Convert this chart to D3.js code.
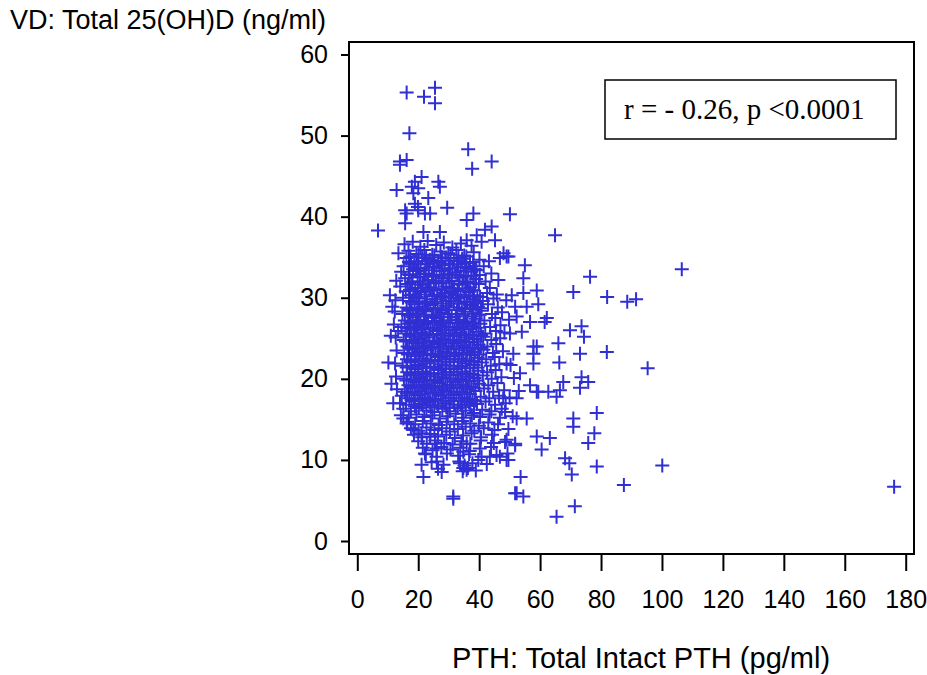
<!DOCTYPE html>
<html>
<head>
<meta charset="utf-8">
<script src="https://cdn.jsdelivr.net/npm/d3@7"></script>
<style>
  body { margin: 0; background: #fff; }
  text { font-family: "Liberation Sans", Arial, sans-serif; }
</style>
</head>
<body>
<div id="chart"></div>
<script>
// scatter: PTH vs 25(OH)D

const width = 927
const height = 675

// tick labels
const xTicks = [0, 20, 40, 60, 80, 100, 120, 140, 160, 180]
const yTicks = [0, 10, 20, 30, 40, 50, 60]

const xLabel = "PTH: Total Intact PTH (pg/ml)"
const yLabel = "VD: Total 25(OH)D (ng/ml)"
const note = "r = - 0.26, p <0.0001"

// [PTH, VD]: scattered points around the cloud
const outerPoints = [
  [6.8,38.3],[16.2,55.3],[21.9,54.8],[25.5,55.9],[25.5,54.0],[17.1,50.3],[14.0,46.8],[16.2,47.0],[14.0,46.4],
  [36.4,48.3],[37.7,45.9],[44.1,46.8],[12.9,43.3],[18.9,44.3],[21.1,44.9],[17.9,43.7],[20.0,43.5],[26.6,44.3],
  [27.1,43.7],[23.3,42.3],[18.4,42.9],[29.5,41.1],[15.7,40.8],[22.2,40.4],[19.9,41.2],[38.1,40.4],[50.1,40.3],
  [18.9,41.6],[20.0,40.8],[23.9,40.4],[16.2,40.4],[15.7,39.2],[35.9,39.6],[44.1,38.8],[41.9,38.4],[21.7,38.1],
  [27.1,38.1],[13.5,35.5],[45.2,37.1],[39.2,37.7],[35.9,37.1],[10.7,30.3],[49.0,35.1],[46.8,34.9],
  [64.9,37.7],[106.5,33.5],[76.4,32.6],[70.9,30.7],[82.0,30.1],[88.6,29.5],[91.5,29.8],[55.0,34.0],[54.5,32.4],
  [48.0,35.5],[49.6,35.1],[58.9,30.9],[54.5,30.6],[50.7,30.3],[59.4,29.2],[55.6,28.9],[51.8,28.9],[62.2,27.5],
  [61.5,27.0],[52.3,27.7],[56.7,27.0],[69.8,26.0],[73.6,26.5],[74.4,25.2],[66.0,24.4],[73.1,23.1],[81.9,23.3],
  [57.8,24.0],[54.0,25.8],[50.1,25.6],[51.2,23.1],[95.3,21.3],[58.9,24.0],[66.3,22.0],[73.6,20.2],[75.8,19.6],
  [73.1,18.9],[67.6,19.6],[66.5,18.6],[65.4,17.8],[62.7,18.4],[59.4,18.4],[78.6,15.8],[70.9,15.1],[70.9,14.1],
  [77.8,13.3],[75.8,12.1],[63.2,12.7],[58.9,12.9],[60.5,11.3],[68.2,10.2],[69.6,9.6],[70.4,8.2],[78.6,9.2],
  [100.1,9.3],[87.5,6.9],[71.4,4.3],[65.4,3.0],[53.6,7.9],[51.8,5.9],[54.5,5.5],[49.0,10.0],[49.0,12.5],
  [51.8,12.0],[49.6,13.8],[55.6,15.1],[52.3,15.1],[48.5,15.9],[57.8,23.1],[49.0,21.9],[53.4,20.7],[57.8,21.9],
  [56.7,19.2],[58.9,18.4],[52.3,17.6],[47.9,17.6],[176.2,6.7],
  [21.7,7.9],[21.1,9.4],[27.7,8.5],[26.1,9.8],[22.2,10.8],[31.5,5.5],[31.5,5.2],[33.7,9.6],[34.8,9.0],
  [35.9,8.8],[39.7,10.0],[25.5,12.0],[26.1,11.4],[35.9,12.0],[34.8,11.0],[43.5,10.4],[46.8,10.4],[49.6,10.0],
  [52.3,5.9],[48.5,12.2],[51.8,11.8],[18.4,13.7],[21.1,13.3],[23.9,12.9],[16.2,14.5],[15.1,15.1],[14.0,17.0],[11.8,17.0],
  [11.0,25.3],[10.2,22.0],[11.5,28.9],[11.2,19.4]
]

// main cloud
const corePoints = [
  [15.5,36.6],[18.2,36.9],[20.7,36.3],[23.1,37.0],[25.9,36.5],[28.4,36.8],[31.2,36.2],[34.0,36.7],[37.5,36.4],[40.8,36.9],
  [16.8,35.8],[19.4,35.4],[22.0,35.9],[24.6,35.3],[27.3,35.7],[29.9,35.5],[32.5,35.9],[35.1,35.2],[38.2,35.6],
  [16.1,34.9],[18.7,34.5],[21.3,35.0],[23.8,34.7],[26.5,34.4],[29.0,34.9],[31.7,34.6],[34.4,34.8],[37.0,34.3],[40.1,34.7],[43.2,34.5],
  [15.2,33.9],[17.6,34.2],[20.1,33.7],[22.8,34.1],[25.2,33.8],[27.9,34.0],[30.4,33.6],[33.1,34.1],[35.7,33.8],[38.6,33.5],[41.5,33.9],
  [14.4,33.2],[16.9,32.9],[19.3,33.3],[21.9,33.0],[24.5,32.8],[27.0,33.3],[29.6,32.9],[32.2,33.1],[34.9,32.7],[37.4,33.2],[40.2,32.8],[44.0,33.0],
  [12.8,32.1],[15.7,32.4],[18.1,32.0],[20.6,32.5],[23.3,32.2],[25.8,31.9],[28.3,32.4],[31.0,32.1],[33.6,32.5],[36.2,31.9],[39.0,32.3],[42.1,32.0],[46.3,32.2],
  [14.1,31.4],[16.6,31.7],[19.0,31.2],[21.5,31.6],[24.1,31.3],[26.7,31.8],[29.2,31.4],[31.8,31.1],[34.5,31.6],[37.1,31.3],[39.9,31.7],[43.5,31.2],
  [15.9,30.8],[18.4,30.4],[20.9,30.7],[23.6,30.9],[26.2,30.3],[28.8,30.6],[31.4,30.8],[33.9,30.4],[36.6,30.7],[39.4,30.2],[42.6,30.6],[45.8,30.4],
  [12.5,29.7],[15.0,30.0],[17.5,29.6],[20.2,29.9],[22.6,29.5],[25.3,29.8],[27.8,30.1],[30.5,29.6],[33.0,29.9],[35.8,29.5],[38.3,29.8],[41.2,29.6],[44.7,29.9],[48.9,29.7],
  [16.2,28.8],[18.8,29.2],[21.4,28.9],[24.0,29.1],[26.4,28.7],[29.1,29.0],[31.7,29.3],[34.3,28.8],[37.0,29.1],[39.6,28.9],[42.9,29.2],[46.1,28.8],
  [12.3,28.3],[14.8,28.0],[17.3,28.4],[19.9,28.1],[22.5,28.3],[25.0,27.9],[27.6,28.2],[30.2,28.5],[32.8,28.0],[35.4,28.3],[38.1,28.1],[40.8,28.4],[44.2,28.0],[47.5,28.2],
  [15.6,27.2],[18.2,27.6],[20.7,27.3],[23.2,27.1],[25.9,27.5],[28.4,27.2],[31.0,27.6],[33.6,27.3],[36.2,27.0],[38.9,27.4],[41.7,27.2],[45.3,27.5],[49.8,27.3],
  [12.0,26.7],[14.5,26.4],[17.0,26.8],[19.6,26.5],[22.1,26.7],[24.7,26.3],[27.3,26.6],[29.9,26.9],[32.5,26.4],[35.0,26.7],[37.7,26.5],[40.4,26.8],[43.6,26.4],[47.0,26.6],
  [13.4,25.9],[15.9,25.6],[18.5,26.0],[21.0,25.7],[23.6,25.5],[26.1,25.9],[28.7,25.6],[31.3,26.0],[33.8,25.7],[36.5,25.4],[39.1,25.8],[42.0,25.6],[45.5,25.9],[48.3,25.7],
  [12.6,25.1],[15.2,24.8],[17.7,25.2],[20.3,24.9],[22.8,25.1],[25.4,24.7],[28.0,25.0],[30.6,25.3],[33.2,24.8],[35.7,25.1],[38.4,24.9],[41.3,25.2],[44.0,24.8],[46.9,25.0],
  [16.5,24.0],[19.1,24.4],[21.6,24.1],[24.2,23.9],[26.8,24.3],[29.3,24.0],[31.9,24.4],[34.6,24.1],[37.2,23.8],[39.8,24.2],[42.7,24.0],[45.6,24.3],
  [12.9,23.5],[15.4,23.2],[18.0,23.6],[20.5,23.3],[23.0,23.5],[25.6,23.1],[28.2,23.4],[30.8,23.7],[33.4,23.2],[36.0,23.5],[38.6,23.3],[41.4,23.6],[44.5,23.2],[47.8,23.4],
  [16.3,22.4],[18.9,22.8],[21.4,22.5],[24.0,22.3],[26.5,22.7],[29.1,22.4],[31.6,22.8],[34.3,22.5],[36.9,22.2],[39.5,22.6],[42.3,22.4],[45.1,22.7],
  [12.4,21.9],[14.9,21.6],[17.5,22.0],[20.0,21.7],[22.6,21.9],[25.2,21.5],[27.7,21.8],[30.3,22.1],[32.9,21.6],[35.5,21.9],[38.2,21.7],[40.9,22.0],[43.8,21.6],[46.6,21.8],[50.3,21.7],
  [16.4,20.8],[19.0,21.2],[21.5,20.9],[24.1,20.7],[26.6,21.1],[29.2,20.8],[31.8,21.2],[34.4,20.9],[37.0,20.6],[39.7,21.0],[42.6,20.8],[45.4,21.1],
  [12.7,20.3],[15.3,20.0],[17.8,20.4],[20.4,20.1],[22.9,20.3],[25.5,19.9],[28.1,20.2],[30.7,20.5],[33.3,20.0],[35.9,20.3],[38.5,20.1],[41.2,20.4],[44.1,20.0],[47.3,20.2],[51.4,20.1],
  [16.8,19.2],[19.3,19.6],[21.9,19.3],[24.5,19.1],[27.0,19.5],[29.6,19.2],[32.2,19.6],[34.8,19.3],[37.4,19.0],[40.0,19.4],[43.0,19.2],[46.0,19.5],
  [13.0,18.7],[15.6,18.4],[18.1,18.8],[20.7,18.5],[23.3,18.7],[25.8,18.3],[28.4,18.6],[31.0,18.9],[33.6,18.4],[36.1,18.7],[38.8,18.5],[41.6,18.8],[44.6,18.4],[48.2,18.6],[53.0,18.5],
  [14.6,17.9],[17.1,17.6],[19.7,18.0],[22.2,17.7],[24.8,17.5],[27.4,17.9],[30.0,17.6],[32.5,18.0],[35.2,17.7],[37.8,17.4],[40.5,17.8],[43.3,17.6],[46.5,17.9],[50.0,17.7],
  [16.0,16.8],[18.6,17.2],[21.1,16.9],[23.7,17.1],[26.3,16.7],[28.9,17.0],[31.5,17.3],[34.0,16.8],[36.7,17.1],[39.3,16.9],[42.1,17.2],[45.2,16.8],[48.7,17.0],
  [15.1,16.3],[17.6,16.0],[20.2,16.4],[22.7,16.1],[25.3,15.9],[27.9,16.3],[30.4,16.0],[33.0,16.4],[35.6,16.1],[38.3,15.8],[41.0,16.2],[44.0,16.0],[47.4,16.3],
  [14.3,15.5],[16.9,15.2],[19.4,15.6],[22.0,15.3],[24.6,15.5],[27.1,15.1],[29.7,15.4],[32.3,15.7],[34.9,15.2],[37.6,15.5],[40.3,15.3],[43.4,15.6],[46.8,15.2],[51.0,15.4],
  [16.4,14.7],[19.0,14.4],[21.5,14.8],[24.1,14.5],[26.7,14.3],[29.3,14.7],[31.8,14.4],[34.4,14.8],[37.1,14.5],[39.9,14.2],[43.0,14.6],[46.2,14.4],
  [17.6,13.9],[20.1,13.6],[22.7,14.0],[25.3,13.7],[27.8,13.9],[30.4,13.5],[33.0,13.8],[35.6,14.1],[38.4,13.6],[41.5,13.9],[45.0,13.7],
  [18.6,13.1],[21.3,12.8],[24.0,13.2],[26.5,12.9],[29.2,13.1],[32.0,12.7],[34.7,13.0],[37.5,13.3],[40.6,12.8],[44.2,13.1],
  [20.0,12.3],[22.8,12.0],[25.6,12.4],[28.5,12.1],[31.3,11.9],[34.2,12.3],[37.1,12.0],[40.5,12.4],[44.8,12.1],
  [21.5,11.5],[24.7,11.2],[27.6,11.6],[30.6,11.3],[33.8,11.5],[36.9,11.1],[40.2,11.4],[43.9,11.6],
  [22.5,10.7],[26.0,10.4],[29.4,10.8],[33.1,10.5],[36.7,10.7],[40.8,10.4],[45.7,10.6],[49.3,10.8],
  [24.4,9.7],[28.3,9.4],[33.5,9.8],[35.2,9.3],[37.8,9.6],[42.5,9.5],
  [26.5,8.9],[34.6,8.6],[36.3,9.0],[38.9,8.7]
]

// the densest part of the cloud
const densePoints = [
  [17.4,35.1],[20.1,35.3],[22.6,34.9],[25.3,35.2],[27.8,35.0],[30.6,35.3],[33.2,34.9],[35.8,35.1],
  [17.0,34.4],[19.7,34.2],[22.3,34.5],[24.9,34.3],[27.5,34.6],[30.0,34.2],[32.7,34.5],[35.4,34.3],[38.0,34.4],
  [18.3,33.5],[20.8,33.6],[23.5,33.4],[26.0,33.7],[28.7,33.4],[31.2,33.6],[33.9,33.3],[36.4,33.6],[39.1,33.4],
  [17.2,32.8],[19.8,32.6],[22.4,32.9],[25.0,32.6],[27.6,32.8],[30.1,32.5],[32.8,32.8],[35.5,32.6],[38.1,32.7],
  [18.0,31.9],[20.5,32.0],[23.1,31.8],[25.7,32.1],[28.2,31.8],[30.9,32.0],[33.4,31.7],[36.0,32.0],[38.7,31.8],
  [17.3,31.0],[19.9,31.2],[22.5,30.9],[25.1,31.1],[27.7,30.9],[30.3,31.2],[32.9,30.9],[35.6,31.1],[38.2,30.9],
  [17.0,30.3],[19.5,30.1],[22.1,30.4],[24.6,30.2],[27.3,30.3],[29.9,30.0],[32.4,30.3],[35.1,30.1],[37.8,30.3],[40.3,30.1],
  [17.8,29.4],[20.4,29.5],[22.9,29.3],[25.6,29.5],[28.1,29.3],[30.8,29.6],[33.4,29.3],[36.1,29.5],[38.8,29.3],
  [17.2,28.6],[19.8,28.7],[22.3,28.5],[25.0,28.7],[27.6,28.5],[30.1,28.8],[32.7,28.5],[35.3,28.7],[38.0,28.6],[40.6,28.7],
  [16.7,27.8],[19.3,27.9],[21.9,27.7],[24.5,27.9],[27.0,27.7],[29.7,28.0],[32.3,27.7],[34.9,27.9],[37.6,27.7],[40.2,27.9],
  [17.5,27.0],[20.1,27.1],[22.7,26.9],[25.3,27.1],[27.8,26.9],[30.5,27.2],[33.1,26.9],[35.7,27.1],[38.3,26.9],
  [16.4,26.2],[18.9,26.3],[21.5,26.1],[24.0,26.3],[26.7,26.1],[29.2,26.4],[31.9,26.1],[34.4,26.3],[37.1,26.1],[39.8,26.3],
  [17.2,25.4],[19.8,25.5],[22.3,25.3],[24.9,25.5],[27.5,25.3],[30.0,25.6],[32.6,25.3],[35.2,25.5],[37.9,25.3],[40.6,25.4],
  [16.0,24.6],[18.5,24.7],[21.1,24.5],[23.6,24.7],[26.2,24.5],[28.8,24.8],[31.4,24.5],[34.0,24.7],[36.7,24.5],[39.3,24.6],
  [17.1,23.8],[19.7,23.9],[22.2,23.7],[24.8,23.9],[27.4,23.7],[30.0,24.0],[32.6,23.7],[35.2,23.9],[37.9,23.7],[40.5,23.8],
  [16.6,23.0],[19.2,23.1],[21.8,22.9],[24.4,23.1],[26.9,22.9],[29.6,23.2],[32.1,22.9],[34.8,23.1],[37.4,22.9],[40.0,23.0],
  [17.6,22.2],[20.2,22.3],[22.8,22.1],[25.4,22.3],[27.9,22.1],[30.6,22.4],[33.2,22.1],[35.8,22.3],[38.5,22.1],
  [16.2,21.4],[18.8,21.5],[21.3,21.3],[23.9,21.5],[26.5,21.3],[29.0,21.6],[31.6,21.3],[34.2,21.5],[36.9,21.3],[39.5,21.4],
  [17.4,20.6],[20.0,20.7],[22.5,20.5],[25.1,20.7],[27.7,20.5],[30.3,20.8],[32.8,20.5],[35.5,20.7],[38.1,20.5],
  [16.1,19.8],[18.6,19.9],[21.2,19.7],[23.8,19.9],[26.3,19.7],[28.9,20.0],[31.5,19.7],[34.1,19.9],[36.7,19.7],[39.4,19.8],
  [17.5,19.0],[20.1,19.1],[22.6,18.9],[25.2,19.1],[27.8,18.9],[30.4,19.2],[32.9,18.9],[35.6,19.1],[38.2,18.9],
  [16.3,18.2],[18.9,18.3],[21.4,18.1],[24.0,18.3],[26.6,18.1],[29.2,18.4],[31.7,18.1],[34.4,18.3],[37.0,18.1],
  [17.8,17.4],[20.4,17.5],[23.0,17.3],[25.5,17.5],[28.1,17.3],[30.7,17.6],[33.3,17.3],[36.0,17.5],[38.6,17.3],
  [18.9,16.6],[21.5,16.7],[24.1,16.5],[26.6,16.7],[29.2,16.5],[31.8,16.8],[34.4,16.5],[37.1,16.7]
]

const allPoints = outerPoints.concat(corePoints, densePoints)

const plot = { left: 349, right: 914, top: 42, bottom: 554 }

const svg = d3.select("div#chart").append("svg").attr("width", width).attr("height", height)

const x = d3.scaleLinear().domain([0, 180]).range([357.3, 905.7])
const y = d3.scaleLinear().domain([0, 60]).range([541, 54.5])

// ejes
const yMinor = d3.range(0, 61, 1).filter(v => v % 10 !== 0)
const xMinor = d3.range(0, 181, 4).filter(v => v % 20 !== 0)

const yAxisGroup = svg.append("g").attr("transform", `translate(${plot.left}, 0)`)
yAxisGroup.call(d3.axisLeft(y).tickValues(yMinor).tickSize(4).tickFormat(""))
yAxisGroup.call(d3.axisLeft(y).tickValues(yTicks).tickSize(8).tickPadding(13))

const xAxisGroup = svg.append("g").attr("transform", `translate(0, ${plot.bottom})`)
xAxisGroup.call(d3.axisBottom(x).tickValues(xMinor).tickSize(8).tickFormat(""))
xAxisGroup.call(d3.axisBottom(x).tickValues(xTicks).tickSize(17).tickPadding(19))

svg.selectAll(".domain").remove()
svg.selectAll(".tick line").attr("stroke", "#000").attr("stroke-width", 2)
svg.selectAll(".tick text")
  .attr("fill", "#000")
  .style("font-family", "'Liberation Sans', Arial, sans-serif")
  .style("font-size", "25px")

// puntos
svg.append("g")
  .selectAll("path")
  .data(allPoints)
  .join("path")
  .attr("transform", d => `translate(${x(d[0])}, ${y(d[1])})`)
  .attr("d", "M-7,0H7M0,-7V7")
  .attr("fill", "none")
  .attr("stroke", "#2f2fd3")
  .attr("stroke-width", 2)

// marco
svg.append("rect")
  .attr("x", plot.left)
  .attr("y", plot.top)
  .attr("width", plot.right - plot.left)
  .attr("height", plot.bottom - plot.top)
  .attr("fill", "none")
  .attr("stroke", "#000")
  .attr("stroke-width", 2)

// caja con r y p
svg.append("rect")
  .attr("x", 605).attr("y", 80).attr("width", 291).attr("height", 59)
  .attr("fill", "#fff").attr("stroke", "#000").attr("stroke-width", 1.5)
svg.append("text")
  .attr("x", 624).attr("y", 119)
  .style("font-family", "'Liberation Serif', 'Times New Roman', serif")
  .style("font-size", "29px")
  .text(note)

// titulos
svg.append("text")
  .attr("x", 10).attr("y", 29)
  .style("font-size", "27px")
  .text(yLabel)

svg.append("text")
  .attr("x", 641).attr("y", 668)
  .attr("text-anchor", "middle")
  .style("font-size", "29px")
  .text(xLabel)
</script>
</body>
</html>
